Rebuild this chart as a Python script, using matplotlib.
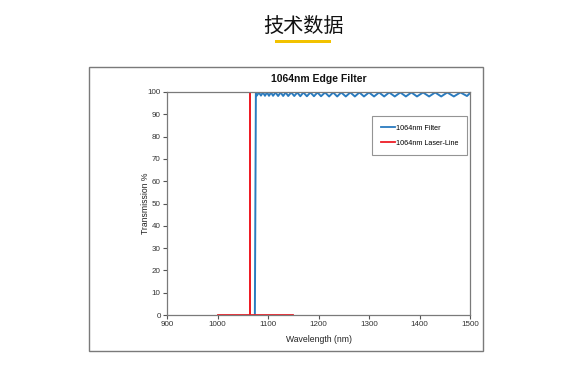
import matplotlib
matplotlib.use("Agg")
import matplotlib.pyplot as plt
from matplotlib.patches import Rectangle
from matplotlib.lines import Line2D

page_title = "技术数据"
chart_title = "1064nm Edge Filter"
x_label = "Wavelength (nm)"
y_label = "Transmission %"
filter_name = "1064nm Filter"
laser_name = "1064nm Laser-Line"

x_ticks = [900, 1000, 1100, 1200, 1300, 1400, 1500]
y_ticks = [0, 10, 20, 30, 40, 50, 60, 70, 80, 90, 100]

# filter transmission: edge then ripple (peaks/troughs)
filter_wl = [1074, 1076, 1078, 1082, 1086, 1090, 1094, 1098, 1102, 1106, 1110,
             1115, 1120, 1125, 1130, 1135, 1140, 1146, 1152, 1158, 1164, 1170,
             1177, 1184, 1191, 1198, 1205, 1213, 1221, 1229, 1237, 1245, 1254,
             1263, 1272, 1281, 1290, 1300, 1310, 1320, 1330, 1340, 1351, 1362,
             1373, 1384, 1395, 1407, 1419, 1431, 1443, 1455, 1468, 1481, 1494,
             1500]
filter_t = [0, 99.5, 98.4, 99.8, 98.4, 99.8, 98.3, 99.8, 98.3, 99.8, 98.3,
            99.8, 98.2, 99.8, 98.2, 99.8, 98.2, 99.8, 98.2, 99.8, 98.1, 99.8,
            98.1, 99.8, 98.1, 99.8, 98.1, 99.8, 98.0, 99.8, 98.0, 99.8, 98.0,
            99.8, 98.0, 99.8, 98.0, 99.8, 98.0, 99.8, 98.0, 99.8, 98.0, 99.8,
            98.0, 99.8, 98.0, 99.8, 98.0, 99.8, 98.0, 99.8, 98.0, 99.8, 98.2,
            99.5]

laser_wl = [1000, 1064, 1064, 1064, 1150]
laser_t = [0, 0, 100, 0, 0]

fnt = ["Liberation Sans", "DejaVu Sans"]

fig = plt.figure(figsize=(5.78, 3.76), dpi=100)
fig.patch.set_facecolor("white")

# page title
fig.text(303 / 578, 1 - 26 / 376, page_title, ha="center", va="center",
         fontsize=14.5, family=["Noto Sans CJK SC", "DejaVu Sans"], color="#111111")
fig.patches.append(Rectangle((275 / 578, 1 - 43 / 376), 56 / 578, 3 / 376,
                             transform=fig.transFigure, facecolor="#f2c200",
                             edgecolor="none"))
# outer chart frame
fig.patches.append(Rectangle((89 / 578, 1 - 351 / 376), 394 / 578, 284 / 376,
                             transform=fig.transFigure, facecolor="white",
                             edgecolor="#7a7a7a", linewidth=1.0, zorder=-5))

ax = fig.add_axes([167 / 578, 1 - 315 / 376, 303 / 578, 223 / 376])
ax.set_zorder(2)
ax.plot(filter_wl, filter_t, color="#2a7bbf", linewidth=1.4, label=filter_name,
        solid_joinstyle="round")
ax.plot(laser_wl, laser_t, color="#ee1c25", linewidth=1.3, label=laser_name)
ax.set_xlim(900, 1500)
ax.set_ylim(0, 100)
ax.set_xticks(x_ticks)
ax.set_yticks(y_ticks)
ax.set_xticklabels([str(v) for v in x_ticks], family=fnt, fontsize=5.8, color="#333333")
ax.set_yticklabels([str(v) for v in y_ticks], family=fnt, fontsize=5.8, color="#333333")
ax.tick_params(length=3, width=0.8, color="#555555", pad=1.5)
for s in ax.spines.values():
    s.set_color("#7a7a7a")
    s.set_linewidth(0.9)
ax.set_xlabel(x_label, family=fnt, fontsize=6.2, color="#222222", labelpad=5)
ax.set_ylabel(y_label, family=fnt, fontsize=6.2, color="#222222")
ax.yaxis.set_label_coords((150 - 167) / 303, 0.5)
ax.set_title(chart_title, family=fnt, fontsize=7.5, fontweight="bold",
             color="#111111", pad=7)

handles = [Line2D([], [], color="#2a7bbf", linewidth=1.3),
           Line2D([], [], color="#ee1c25", linewidth=1.3)]
leg = ax.legend(handles, [filter_name, laser_name], loc="upper left",
                bbox_to_anchor=((372 - 167) / 303, (315 - 116) / 223),
                prop={"family": fnt, "size": 5.2}, frameon=True, fancybox=False,
                edgecolor="#7a7a7a", handlelength=2.0, handletextpad=0.1,
                borderpad=1.2, labelspacing=1.1, borderaxespad=0)
leg.get_frame().set_linewidth(0.8)

fig.savefig("out.png", dpi=100, facecolor="white")
